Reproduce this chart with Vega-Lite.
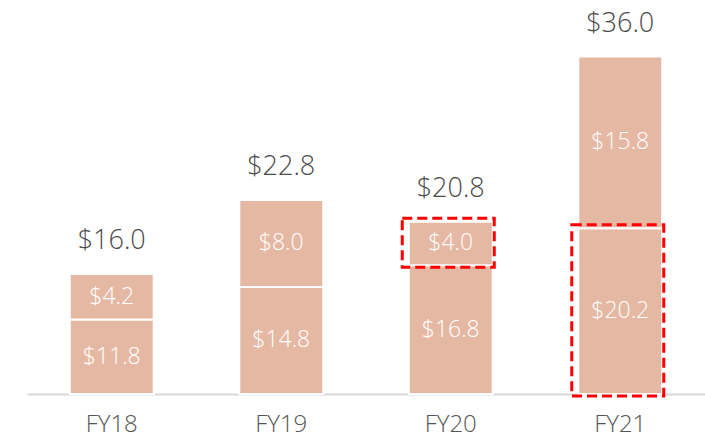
{
  "$schema": "https://vega.github.io/schema/vega-lite/v6.json",
  "width": 678,
  "height": 394,
  "autosize": {"type": "none"},
  "padding": {"left": 27, "top": 0, "right": 0, "bottom": 44},
  "background": "white",
  "config": {"view": {"stroke": null}, "font": "Open Sans"},
  "data": {
    "values": [
      {"year": "FY18", "segment": "base", "order": 1, "value": 11.8, "highlight": false},
      {"year": "FY18", "segment": "growth", "order": 2, "value": 4.2, "highlight": false},
      {"year": "FY19", "segment": "base", "order": 1, "value": 14.8, "highlight": false},
      {"year": "FY19", "segment": "growth", "order": 2, "value": 8.0, "highlight": false},
      {"year": "FY20", "segment": "base", "order": 1, "value": 16.8, "highlight": false},
      {"year": "FY20", "segment": "growth", "order": 2, "value": 4.0, "highlight": true},
      {"year": "FY21", "segment": "base", "order": 1, "value": 20.2, "highlight": true},
      {"year": "FY21", "segment": "growth", "order": 2, "value": 15.8, "highlight": false}
    ]
  },
  "transform": [
    {"stack": "value", "groupby": ["year"], "sort": [{"field": "order"}], "as": ["v0", "v1"]},
    {"calculate": "(max(datum.v0, 4.95) + datum.v1) / 2", "as": "mid"}
  ],
  "encoding": {
    "x": {
      "field": "year",
      "type": "nominal",
      "sort": ["FY18", "FY19", "FY20", "FY21"],
      "scale": {"paddingInner": 0.505, "paddingOuter": 0.2525},
      "axis": {
        "title": null,
        "labelAngle": 0,
        "labelFontSize": 24,
        "labelFont": "Open Sans",
        "labelFontWeight": 300,
        "labelColor": "#555555",
        "ticks": false,
        "labelPadding": 18,
        "domainColor": "#d9d9d9",
        "domainWidth": 2
      }
    }
  },
  "layer": [
    {
      "mark": {"type": "bar", "color": "#E5B8A4", "stroke": "white", "strokeWidth": 2},
      "encoding": {
        "y": {"field": "v1", "type": "quantitative", "scale": {"domain": [4.95, 41.2], "zero": false, "nice": false, "clamp": true}, "axis": null},
        "y2": {"field": "v0"}
      }
    },
    {
      "mark": {"type": "text", "color": "white", "fontSize": 23, "fontWeight": 300, "baseline": "middle"},
      "encoding": {
        "y": {"field": "mid", "type": "quantitative"},
        "text": {"field": "value", "type": "quantitative", "format": "$.1f"}
      }
    },
    {
      "transform": [{"filter": "datum.order == 2"}],
      "mark": {"type": "text", "color": "#4a4a4a", "fontSize": 27, "fontWeight": 300, "baseline": "alphabetic", "dy": -25},
      "encoding": {
        "y": {"field": "v1", "type": "quantitative"},
        "text": {"field": "v1", "type": "quantitative", "format": "$.1f"}
      }
    },
    {
      "transform": [{"filter": "datum.highlight"}],
      "mark": {"type": "bar", "fill": null, "fillOpacity": 0, "stroke": "#FF0000", "strokeWidth": 3, "strokeDash": [10, 5], "width": 92, "xOffset": -2.5, "yOffset": -3.5, "y2Offset": 2},
      "encoding": {
        "y": {"field": "v1", "type": "quantitative"},
        "y2": {"field": "v0"}
      }
    }
  ]
}
